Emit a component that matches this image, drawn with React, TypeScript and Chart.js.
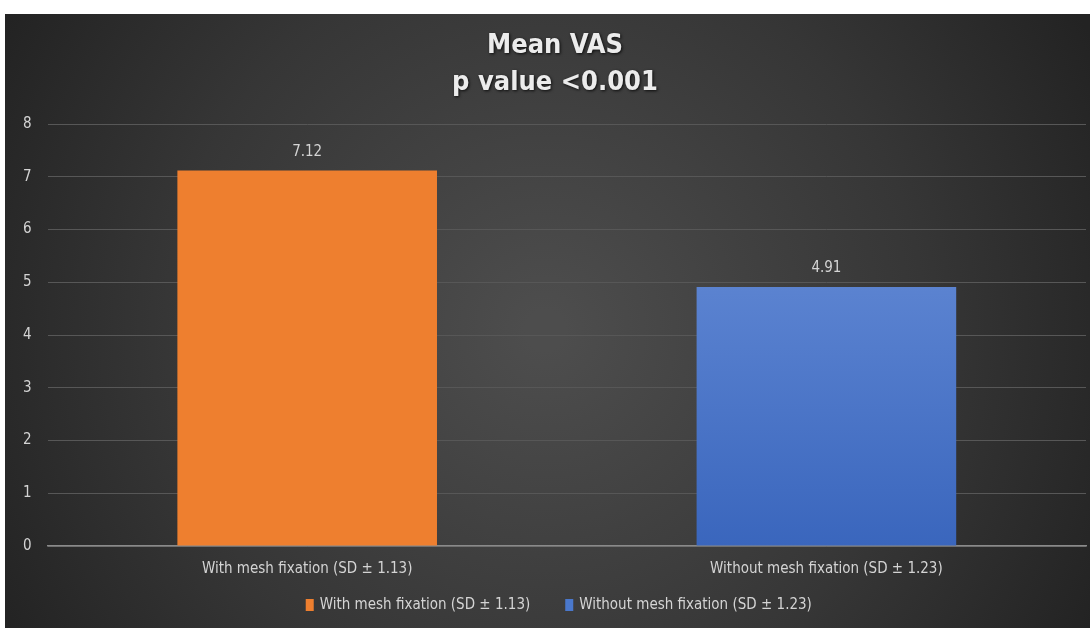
import React, { useEffect, useRef } from "react";
import { Chart, registerables } from "chart.js";

Chart.register(...registerables);

const categories = ["With mesh fixation (SD ± 1.13)", "Without mesh fixation (SD ± 1.23)"];
const meanVas = [7.12, 4.91];
const valueLabels = ["7.12", "4.91"];
const titleLines = ["Mean VAS", "p value <0.001"];
const yTicks = [0, 1, 2, 3, 4, 5, 6, 7, 8];
const legendColors = ["#ee7f2f", "#4a78cc"];

const FONT = "'DejaVu Sans Condensed', 'Open Sans', sans-serif";

const bgPlugin = {
  id: "bgPlugin",
  beforeDraw(chart: any) {
    const { ctx, width, height } = chart;
    ctx.save();
    ctx.fillStyle = "#ffffff";
    ctx.fillRect(0, 0, width, height);
    const x0 = 5, y0 = 14;
    const g = ctx.createRadialGradient(width / 2, 330, 20, width / 2, 330, 620);
    g.addColorStop(0, "#4d4d4d");
    g.addColorStop(0.6, "#363636");
    g.addColorStop(1, "#232323");
    ctx.fillStyle = g;
    ctx.fillRect(x0, y0, width - x0, height - y0);
    ctx.restore();
  },
};

const titlePlugin = {
  id: "titlePlugin",
  afterDraw(chart: any) {
    const { ctx, width } = chart;
    ctx.save();
    ctx.font = `bold 27px ${FONT}`;
    ctx.textAlign = "center";
    ctx.textBaseline = "middle";
    ctx.shadowColor = "rgba(0,0,0,0.8)";
    ctx.shadowBlur = 3;
    ctx.shadowOffsetX = 1;
    ctx.shadowOffsetY = 1;
    ctx.fillStyle = "#ececec";
    ctx.fillText(titleLines[0], width / 2 + 10, 46);
    ctx.fillText(titleLines[1], width / 2 + 10, 83);
    ctx.restore();
  },
};

const legendPlugin = {
  id: "legendPlugin",
  afterDraw(chart: any) {
    const { ctx, chartArea } = chart;
    ctx.save();
    ctx.font = `15px ${FONT}`;
    ctx.textBaseline = "middle";
    ctx.textAlign = "left";
    const boxW = 8, boxH = 12, gapBox = 6, gapItem = 35;
    const widths = categories.map((c) => ctx.measureText(c).width);
    const total = widths.reduce((a, w) => a + boxW + gapBox + w, 0) + gapItem * (categories.length - 1);
    const cx = (chartArea.left + chartArea.right) / 2 - 8;
    let x = cx - total / 2;
    const y = 605;
    categories.forEach((c, i) => {
      ctx.fillStyle = legendColors[i];
      ctx.fillRect(x, y - boxH / 2, boxW, boxH);
      x += boxW + gapBox;
      ctx.fillStyle = "#d4d4d4";
      ctx.fillText(c, x, y);
      x += widths[i] + gapItem;
    });
    ctx.restore();
  },
};

const valuePlugin = {
  id: "valuePlugin",
  afterDatasetsDraw(chart: any) {
    const { ctx } = chart;
    const meta = chart.getDatasetMeta(0);
    ctx.save();
    ctx.font = `15px ${FONT}`;
    ctx.fillStyle = "#d4d4d4";
    ctx.textAlign = "center";
    ctx.textBaseline = "bottom";
    meta.data.forEach((bar: any, i: number) => {
      ctx.fillText(valueLabels[i], bar.x, bar.y - 11);
    });
    ctx.restore();
  },
};

export default function App() {
  const ref = useRef<HTMLCanvasElement>(null);
  useEffect(() => {
    document.body.style.margin = "0";
    const canvas = ref.current!;
    const chart = new Chart(canvas, {
      type: "bar",
      data: {
        labels: categories,
        datasets: [
          {
            data: meanVas,
            backgroundColor: (c: any) => {
              const { chart: ch, dataIndex } = c;
              const area = ch.chartArea;
              if (!area) return legendColors[dataIndex];
              if (dataIndex === 0) return legendColors[0];
              const g = ch.ctx.createLinearGradient(0, area.top, 0, area.bottom);
              g.addColorStop(0, "#6f92d8");
              g.addColorStop(0.4, "#5a82d0");
              g.addColorStop(1, "#3a66bd");
              return g;
            },
            borderWidth: 0,
            categoryPercentage: 0.5,
            barPercentage: 1,
          },
        ],
      },
      options: {
        responsive: false,
        animation: false,
        layout: { padding: { top: 124, left: 7, right: 4, bottom: 36 } },
        plugins: {
          title: { display: false },
          tooltip: { enabled: false },
          legend: { display: false },
        },
        scales: {
          x: {
            grid: { display: false, drawTicks: false },
            border: { color: "#8a8a8a", width: 1.5 },
            ticks: { color: "#d4d4d4", font: { family: FONT, size: 15 }, padding: 14 },
          },
          y: {
            min: 0,
            max: 8,
            afterBuildTicks: (axis: any) => {
              axis.ticks = yTicks.map((v) => ({ value: v }));
            },
            grid: { color: "#575757", lineWidth: 1, drawTicks: false },
            border: { display: false },
            ticks: { color: "#d4d4d4", font: { family: FONT, size: 15 }, padding: 16 },
          },
        },
      },
      plugins: [bgPlugin, titlePlugin, valuePlugin, legendPlugin],
    });
    return () => chart.destroy();
  }, []);
  return <canvas ref={ref} width={1090} height={628} style={{ display: "block" }} />;
}
